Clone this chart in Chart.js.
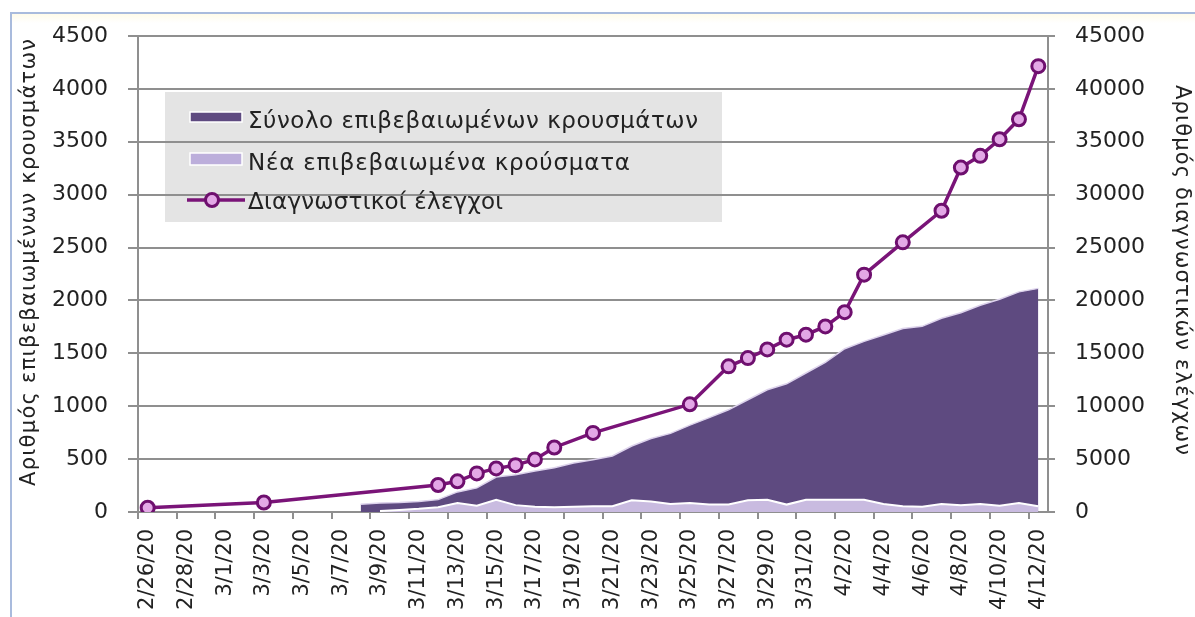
<!DOCTYPE html>
<html>
<head>
<meta charset="utf-8">
<script src="https://cdn.jsdelivr.net/npm/chart.js@4.4.1/dist/chart.umd.min.js"></script>
<style>
  html, body { margin: 0; padding: 0; background: #fff; }
  #wrap { position: relative; width: 1195px; height: 617px; overflow: hidden; }
  #frame {
    position: absolute; left: 10px; top: 12px; right: -4px; bottom: -4px;
    border-top: 2px solid #a9bbdd; border-left: 2px solid #a9bbdd;
    background: linear-gradient(#fffbea 0px, #ffffff 9px);
  }
  canvas { position: absolute; left: 0; top: 0; }
</style>
</head>
<body>
<div id="wrap">
  <div id="frame"></div>
  <canvas id="chart" width="1195" height="617"></canvas>
</div>
<script>
// daily categories 2/26/20 .. 4/12/20 (every other one gets a label)
const dates = [
  "2/26/20", "2/27/20", "2/28/20", "2/29/20", "3/1/20", "3/2/20", "3/3/20", "3/4/20",
  "3/5/20", "3/6/20", "3/7/20", "3/8/20", "3/9/20", "3/10/20", "3/11/20", "3/12/20",
  "3/13/20", "3/14/20", "3/15/20", "3/16/20", "3/17/20", "3/18/20", "3/19/20", "3/20/20",
  "3/21/20", "3/22/20", "3/23/20", "3/24/20", "3/25/20", "3/26/20", "3/27/20", "3/28/20",
  "3/29/20", "3/30/20", "3/31/20", "4/1/20", "4/2/20", "4/3/20", "4/4/20", "4/5/20",
  "4/6/20", "4/7/20", "4/8/20", "4/9/20", "4/10/20", "4/11/20", "4/12/20"
];

// total confirmed cases (left axis)
const totalCases = [
  null, null, null, null, null, null, null, null,
  null, null, null, 73, 84, 89, 99, 117,
  190, 228, 331, 352, 387, 418, 464, 495,
  530, 624, 695, 743, 821, 892, 966, 1061,
  1156, 1212, 1314, 1415, 1544, 1613, 1673, 1735,
  1755, 1832, 1884, 1955, 2011, 2081, 2114
];

// new confirmed cases (left axis)
const newCases = [
  null, null, null, null, null, null, null, null,
  null, null, null, null, 10, 20, 30, 45,
  85, 60, 115, 65, 50, 45, 50, 55,
  55, 110, 100, 75, 85, 70, 70, 110,
  115, 70, 115, 115, 115, 115, 75, 55,
  50, 75, 65, 75, 60, 85, 55
];

// diagnostic tests (right axis), only on reported days
const tests = [
  400, null, null, null, null, null, 900, null,
  null, null, null, null, null, null, null, 2550,
  2900, 3650, 4120, 4430, 4970, 6100, null, 7480,
  null, null, null, null, 10180, null, 13770, 14550,
  15370, 16290, 16760, 17540, 18890, 22440, null, 25490,
  null, 28480, 32560, 33670, 35240, 37130, 42150
];

const seriesNames = [
  "Σύνολο επιβεβαιωμένων κρουσμάτων",
  "Νέα επιβεβαιωμένα κρούσματα",
  "Διαγνωστικοί έλεγχοι"
];
const leftTitle = "Αριθμός επιβεβαιωμένων κρουσμάτων";
const rightTitle = "Αριθμός διαγνωστικών ελέγχων";

const FONT = "'DejaVu Sans', Verdana, sans-serif";
const GRID = "#8f8f8f";
const DARK = "#5e4a80";
const LIGHT = "#c9bbe0";
const LINE = "#7a1478";
const MARK = "#e3a8e6";
const MARK_EDGE = "#6e0f6e";

// text squeezed/stretched to a given width with letter spacing
function spacedText(ctx, text, x, y, width) {
  ctx.letterSpacing = "0px";
  const w = ctx.measureText(text).width;
  ctx.letterSpacing = ((width - w) / (text.length - 1)) + "px";
  ctx.fillText(text, x, y);
  ctx.letterSpacing = "0px";
}

const decor = {
  id: "decor",
  beforeDraw(chart) {
    // legend backdrop sits under the grid lines
    const a = chart.chartArea;
    const ctx = chart.ctx;
    ctx.save();
    ctx.fillStyle = "#e4e4e4";
    ctx.fillRect(a.left + 27, a.top + 56, 557, 130);
    ctx.restore();
  },
  afterDatasetsDraw(chart) {
    const a = chart.chartArea;
    const ctx = chart.ctx;
    const x0 = a.left + 52;
    ctx.save();
    // swatch 1
    ctx.fillStyle = DARK;
    ctx.strokeStyle = "#ffffff";
    ctx.lineWidth = 1.5;
    ctx.fillRect(x0, a.top + 76, 52, 10);
    ctx.strokeRect(x0, a.top + 76, 52, 10);
    // swatch 2
    ctx.fillStyle = "#bcaedb";
    ctx.fillRect(x0, a.top + 117, 52, 12);
    ctx.strokeRect(x0, a.top + 117, 52, 12);
    // line swatch
    ctx.strokeStyle = LINE;
    ctx.lineWidth = 3.5;
    ctx.beginPath();
    ctx.moveTo(x0 - 3, a.top + 164);
    ctx.lineTo(x0 + 55, a.top + 164);
    ctx.stroke();
    ctx.beginPath();
    ctx.arc(x0 + 22, a.top + 164, 6.5, 0, Math.PI * 2);
    ctx.fillStyle = MARK;
    ctx.fill();
    ctx.lineWidth = 3;
    ctx.strokeStyle = MARK_EDGE;
    ctx.stroke();
    // labels
    ctx.fillStyle = "#222";
    ctx.font = "23px " + FONT;
    ctx.textBaseline = "alphabetic";
    ctx.textAlign = "left";
    spacedText(ctx, seriesNames[0], x0 + 58, a.top + 92, 450);
    spacedText(ctx, seriesNames[1], x0 + 58, a.top + 134, 382);
    spacedText(ctx, seriesNames[2], x0 + 58, a.top + 173, 255);
    ctx.restore();
  },
  afterDraw(chart) {
    const ctx = chart.ctx;
    ctx.save();
    ctx.fillStyle = "#222";
    ctx.font = "21px " + FONT;
    ctx.textBaseline = "middle";
    ctx.textAlign = "left";
    // left title, reading upwards
    ctx.translate(30, 263);
    ctx.rotate(-Math.PI / 2);
    spacedText(ctx, leftTitle, -223, 0, 447);
    ctx.restore();
    ctx.save();
    ctx.fillStyle = "#222";
    ctx.font = "21px " + FONT;
    ctx.textBaseline = "middle";
    ctx.textAlign = "left";
    // right title, reading downwards
    ctx.translate(1181, 270);
    ctx.rotate(Math.PI / 2);
    spacedText(ctx, rightTitle, -185, 0, 370);
    ctx.restore();
  }
};

new Chart(document.getElementById("chart"), {
  type: "line",
  data: {
    labels: dates,
    datasets: [
      {
        label: seriesNames[2],
        data: tests,
        yAxisID: "y1",
        spanGaps: true,
        fill: false,
        borderColor: LINE,
        borderWidth: 3.5,
        pointRadius: 6.5,
        pointBorderWidth: 3,
        pointBackgroundColor: MARK,
        pointBorderColor: MARK_EDGE,
        tension: 0,
        order: 1
      },
      {
        label: seriesNames[1],
        data: newCases,
        yAxisID: "y",
        fill: "origin",
        backgroundColor: LIGHT,
        borderColor: "#ffffff",
        borderWidth: 2,
        pointRadius: 0,
        tension: 0,
        order: 2
      },
      {
        label: seriesNames[0],
        data: totalCases,
        yAxisID: "y",
        fill: "origin",
        backgroundColor: DARK,
        borderColor: "#ddd3ec",
        borderWidth: 1.5,
        pointRadius: 0,
        tension: 0,
        order: 3
      }
    ]
  },
  options: {
    responsive: false,
    animation: false,
    layout: { padding: { top: 36, left: 0, right: 0, bottom: 0 } },
    plugins: {
      legend: { display: false },
      tooltip: { enabled: false }
    },
    scales: {
      x: {
        offset: true,
        grid: {
          offset: true,
          drawOnChartArea: false,
          tickLength: 7,
          lineWidth: 2,
          color: c => (c.index % 2 === 0 ? GRID : "rgba(0,0,0,0)")
        },
        border: { display: true, color: GRID, width: 2 },
        ticks: {
          autoSkip: false,
          maxRotation: 90,
          minRotation: 90,
          padding: 10,
          color: "#222",
          font: { family: FONT, size: 21 },
          callback: (v, i) => (i % 2 === 0 ? dates[i] : "")
        },
        afterFit: s => { s.height = 105; }
      },
      y: {
        position: "left",
        min: 0,
        max: 4500,
        ticks: {
          stepSize: 500,
          padding: 20,
          color: "#222",
          font: { family: FONT, size: 22 },
          callback: v => String(v)
        },
        grid: { color: GRID, lineWidth: 2, tickLength: 10 },
        border: { display: true, color: GRID, width: 2 },
        afterFit: s => { s.width = 138; }
      },
      y1: {
        position: "right",
        min: 0,
        max: 45000,
        ticks: {
          stepSize: 5000,
          padding: 20,
          color: "#222",
          font: { family: FONT, size: 22 },
          callback: v => String(v)
        },
        grid: { drawOnChartArea: false, color: GRID, lineWidth: 2, tickLength: 7 },
        border: { display: true, color: GRID, width: 2 },
        afterFit: s => { s.width = 147; }
      }
    }
  },
  plugins: [decor]
});
</script>
</body>
</html>
